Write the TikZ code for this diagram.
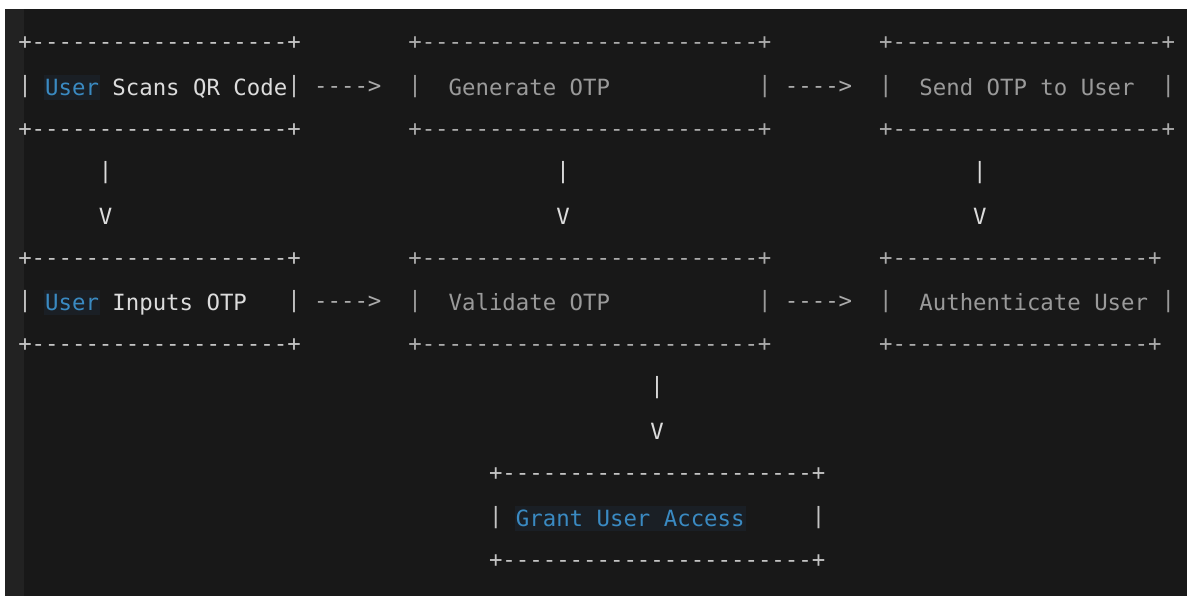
\documentclass[tikz,border=0pt]{standalone}
\usepackage{fontspec}
\setmonofont{DejaVu Sans Mono}
\definecolor{bg}{HTML}{181818}
\definecolor{gut}{HTML}{222222}
\definecolor{hl}{HTML}{1A1F25}
\definecolor{cw}{HTML}{DCDCDC}
\definecolor{cl}{HTML}{C4C4C4}
\definecolor{cg}{HTML}{9A9A9A}
\definecolor{ca}{HTML}{ABABAB}
\definecolor{cb}{HTML}{3A8AC2}
\ExplSyntaxOn
\cs_new:Npn \dashrep #1 { \prg_replicate:nn {#1} {-} }
\ExplSyntaxOff
\newcommand\brd[1]{+\dashrep{#1}+}
\newcommand\cx[1]{18.28+13.45*#1}
\begin{document}
\begin{tikzpicture}[x=1pt,y=-1pt,
  seg/.style={inner sep=0pt, outer sep=0pt, anchor=base west,
    font=\fontsize{22.34}{26}\selectfont\ttfamily}]
\useasboundingbox (0,0) rectangle (1187,596);
\fill[white] (0,0) rectangle (1187,596);
\fill[bg] (5,9) rectangle (1187,596);
\fill[gut] (5,9) rectangle (24,596);
% word highlights
\fill[hl] ({\cx{2}-1},75) rectangle ({\cx{6}+1},100);
\fill[hl] ({\cx{2}-1},290) rectangle ({\cx{6}+1},315);
\fill[hl] ({\cx{37}-1},506) rectangle ({\cx{54}+1},531);
% ---- row 1 boxes
\node[seg,cl] (b1top) at ({\cx{0}},49.6) {\brd{19}};
\node[seg,ca] (b2top) at ({\cx{29}},49.6) {\brd{25}};
\node[seg,ca] (b3top) at ({\cx{64}},49.6) {\brd{20}};
\node[seg,cl] (b1l) at ({\cx{0}},92.9) {|};
\node[seg,cb] (u1) at ({\cx{2}},95.2) {User};
\node[seg,cw] (t1) at ({\cx{7}},95.2) {Scans QR Code};
\node[seg,cl] (b1r) at ({\cx{20}},92.9) {|};
\node[seg,ca] (a12) at ({\cx{22}},93.6) {---->};
\node[seg,cg] (b2l) at ({\cx{29}},92.9) {|};
\node[seg,cg] (t2) at ({\cx{32}},95.2) {Generate OTP};
\node[seg,cg] (b2r) at ({\cx{55}},92.9) {|};
\node[seg,ca] (a23) at ({\cx{57}},93.6) {---->};
\node[seg,cg] (b3l) at ({\cx{64}},92.9) {|};
\node[seg,cg] (t3) at ({\cx{67}},95.2) {Send OTP to User};
\node[seg,cg] (b3r) at ({\cx{85}},92.9) {|};
\node[seg,cl] (b1bot) at ({\cx{0}},136.6) {\brd{19}};
\node[seg,ca] (b2bot) at ({\cx{29}},136.6) {\brd{25}};
\node[seg,ca] (b3bot) at ({\cx{64}},136.6) {\brd{20}};
% ---- vertical arrows 1
\node[seg,cw] (v1a) at ({\cx{6}},178.9) {|};
\node[seg,cw] (v2a) at ({\cx{40}},178.9) {|};
\node[seg,cw] (v3a) at ({\cx{71}},178.9) {|};
\node[seg,cw] (v1b) at ({\cx{6}},224.2) {V};
\node[seg,cw] (v2b) at ({\cx{40}},224.2) {V};
\node[seg,cw] (v3b) at ({\cx{71}},224.2) {V};
% ---- row 2 boxes
\node[seg,cl] (b4top) at ({\cx{0}},265.6) {\brd{19}};
\node[seg,ca] (b5top) at ({\cx{29}},265.6) {\brd{25}};
\node[seg,ca] (b6top) at ({\cx{64}},265.6) {\brd{19}};
\node[seg,cl] (b4l) at ({\cx{0}},307.9) {|};
\node[seg,cb] (u2) at ({\cx{2}},310.2) {User};
\node[seg,cw] (t4) at ({\cx{7}},310.2) {Inputs OTP};
\node[seg,cl] (b4r) at ({\cx{20}},307.9) {|};
\node[seg,ca] (a45) at ({\cx{22}},308.6) {---->};
\node[seg,cg] (b5l) at ({\cx{29}},307.9) {|};
\node[seg,cg] (t5) at ({\cx{32}},310.2) {Validate OTP};
\node[seg,cg] (b5r) at ({\cx{55}},307.9) {|};
\node[seg,ca] (a56) at ({\cx{57}},308.6) {---->};
\node[seg,cg] (b6l) at ({\cx{64}},307.9) {|};
\node[seg,cg] (t6) at ({\cx{67}},310.2) {Authenticate User};
\node[seg,cg] (b6r) at ({\cx{85}},307.9) {|};
\node[seg,cl] (b4bot) at ({\cx{0}},351.6) {\brd{19}};
\node[seg,ca] (b5bot) at ({\cx{29}},351.6) {\brd{25}};
\node[seg,ca] (b6bot) at ({\cx{64}},351.6) {\brd{19}};
% ---- vertical arrow 2
\node[seg,cw] (v5a) at ({\cx{47}},393.9) {|};
\node[seg,cw] (v5b) at ({\cx{47}},439.2) {V};
% ---- grant box
\node[seg,cl] (b7top) at ({\cx{35}},480.6) {\brd{23}};
\node[seg,cl] (b7l) at ({\cx{35}},523.9) {|};
\node[seg,cb] (t7) at ({\cx{37}},526.2) {Grant User Access};
\node[seg,cl] (b7r) at ({\cx{59}},523.9) {|};
\node[seg,cl] (b7bot) at ({\cx{35}},567.6) {\brd{23}};
\end{tikzpicture}
\end{document}
